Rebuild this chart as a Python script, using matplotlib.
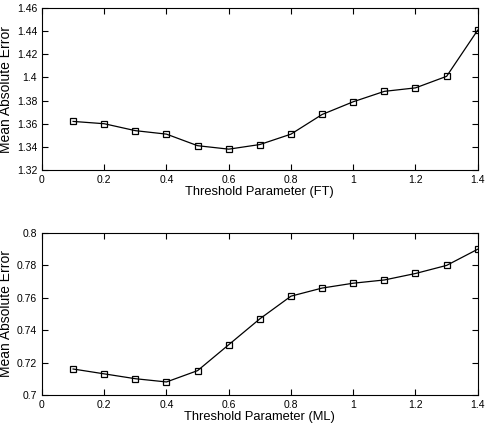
import numpy as np
import matplotlib
matplotlib.use("Agg")
import matplotlib.pyplot as plt
from matplotlib.ticker import FuncFormatter

plt.rcParams['font.family'] = ['Liberation Sans', 'DejaVu Sans']

# --- Daten ---
thresholds = [0.1, 0.2, 0.3, 0.4, 0.5, 0.6, 0.7, 0.8, 0.9, 1.0, 1.1, 1.2, 1.3, 1.4]
mae_ft = [1.362, 1.360, 1.354, 1.351, 1.341, 1.338, 1.342, 1.351,
          1.368, 1.379, 1.388, 1.391, 1.401, 1.441]
mae_ml = [0.716, 0.713, 0.710, 0.708, 0.715, 0.731, 0.747, 0.761,
          0.766, 0.769, 0.771, 0.775, 0.780, 0.790]

x_ticks = [0, 0.2, 0.4, 0.6, 0.8, 1.0, 1.2, 1.4]
ft_ticks = [1.32, 1.34, 1.36, 1.38, 1.40, 1.42, 1.44, 1.46]
ml_ticks = [0.70, 0.72, 0.74, 0.76, 0.78, 0.80]

fmt = FuncFormatter(lambda v, p: f"{v:g}")

fig = plt.figure(figsize=(4.88, 4.26), dpi=100)
ax1 = fig.add_axes([0.086, 0.601, 0.893, 0.380])
ax2 = fig.add_axes([0.086, 0.073, 0.893, 0.380])

panels = [
    (ax1, mae_ft, ft_ticks, "Threshold Parameter (FT)"),
    (ax2, mae_ml, ml_ticks, "Threshold Parameter (ML)"),
]

for ax, vals, yt, xlabel in panels:
    ax.plot(thresholds, vals, color="black", linewidth=0.9, marker="s",
            markersize=5, markerfacecolor="none", markeredgecolor="black",
            markeredgewidth=0.9)
    ax.set_xlim(0, 1.4)
    ax.set_ylim(yt[0], yt[-1])
    ax.set_xticks(x_ticks)
    ax.set_yticks(yt)
    ax.xaxis.set_major_formatter(fmt)
    ax.yaxis.set_major_formatter(fmt)
    ax.tick_params(direction="in", top=True, right=True, labelsize=7.5,
                   length=4, width=0.8)
    ax.set_xlabel(xlabel, fontsize=9.3, labelpad=1)
    ax.set_ylabel("Mean Absolute Error", fontsize=10, labelpad=3)
    for s in ax.spines.values():
        s.set_linewidth(0.8)

fig.savefig("out.png", dpi=100)
plt.close(fig)
